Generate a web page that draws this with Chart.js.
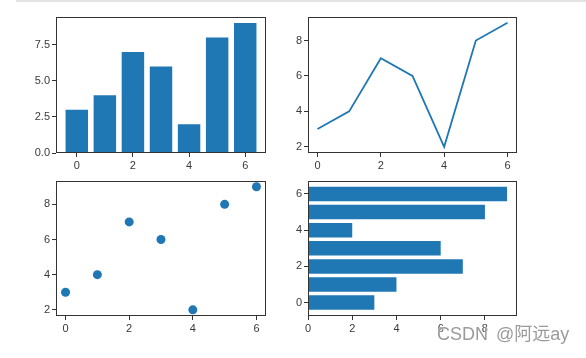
<!DOCTYPE html>
<html>
<head>
<meta charset="utf-8">
<script src="https://cdn.jsdelivr.net/npm/chart.js@4.4.0/dist/chart.umd.min.js"></script>
<style>
  html, body { margin:0; padding:0; background:#fff; }
  body { width:586px; height:358px; position:relative; overflow:hidden; }
  canvas { position:absolute; }
  #topline { position:absolute; left:16px; top:0; width:570px; height:2px; background:#e3e3e3; }
  #wm { position:absolute; left:437px; top:319px; font:18px "Liberation Sans","Noto Sans CJK SC",sans-serif;
        word-spacing:3px; color:rgba(120,120,120,0.75); text-shadow:0 0 2px #fff, 0 0 1px #fff; white-space:nowrap; }
</style>
</head>
<body>
<div id="topline"></div>
<canvas id="c1"></canvas>
<canvas id="c2"></canvas>
<canvas id="c3"></canvas>
<canvas id="c4"></canvas>
<div id="wm">CSDN @阿远ay</div>
<script>
// ---- data ----
const xs = [0, 1, 2, 3, 4, 5, 6];
const values = [3, 4, 7, 6, 2, 8, 9];
// ---- tick labels ----
const barYTicks = [0, 2.5, 5, 7.5];
const indexTicks = [0, 2, 4, 6];
const valueTicks = [2, 4, 6, 8];
const hbarXTicks = [0, 2, 4, 6, 8];

const BLUE = '#1f77b4';
const points = xs.map((x, i) => ({ x: x, y: values[i] }));
const hpoints = xs.map((x, i) => ({ x: values[i], y: x }));

const PADL = 40, PADT = 8, PADR = 8, PADB = 26;

const framePlugin = {
  id: 'frame',
  afterDatasetsDraw(chart) {
    const a = chart.chartArea, ctx = chart.ctx;
    ctx.save();
    ctx.strokeStyle = '#333';
    ctx.lineWidth = 1;
    ctx.strokeRect(Math.round(a.left) + 0.5, Math.round(a.top) + 0.5,
                   Math.round(a.right - a.left) - 1, Math.round(a.bottom - a.top) - 1);
    ctx.restore();
  }
};

function axis(pos, min, max, ticks, fmt, fitSize) {
  return {
    type: 'linear', position: pos, min: min, max: max, offset: false,
    afterBuildTicks: s => { s.ticks = ticks.map(v => ({ value: v })); },
    afterFit: s => { if (pos === 'left') s.width = fitSize; else s.height = fitSize; },
    grid: { display: true, offset: false, drawOnChartArea: false, drawTicks: true, tickLength: 4, color: '#333', lineWidth: 1 },
    border: { display: false },
    ticks: { color: '#3a3a3a', padding: 2, font: { family: 'Liberation Sans', size: 11 },
             autoSkip: false, maxRotation: 0, callback: fmt || (v => String(v)) }
  };
}

function make(id, frame, type, data, scales, extra) {
  const cv = document.getElementById(id);
  const w = frame.r - frame.l + PADL + PADR;
  const h = frame.b - frame.t + PADT + PADB;
  cv.width = w; cv.height = h;
  cv.style.left = (frame.l - PADL) + 'px';
  cv.style.top = (frame.t - PADT) + 'px';
  cv.style.width = w + 'px'; cv.style.height = h + 'px';
  return new Chart(cv, {
    type: type,
    data: data,
    plugins: [framePlugin],
    options: Object.assign({
      responsive: false, animation: false, devicePixelRatio: 1,
      layout: { padding: { top: PADT, right: PADR, left: 0, bottom: 0 } },
      plugins: { legend: { display: false }, tooltip: { enabled: false } },
      scales: scales
    }, extra || {})
  });
}

// top-left: vertical bars
make('c1', { l: 56, r: 266, t: 16, b: 153 }, 'bar',
  { datasets: [{ data: points, backgroundColor: BLUE, borderWidth: 0, barPercentage: 0.8, categoryPercentage: 1.0 }] },
  { x: axis('bottom', -0.74, 6.74, indexTicks, null, PADB),
    y: axis('left', 0, 9.45, barYTicks, v => v.toFixed(1), PADL) });

// top-right: line
make('c2', { l: 308, r: 517, t: 16, b: 153 }, 'line',
  { datasets: [{ data: points, borderColor: BLUE, borderWidth: 1.8, pointRadius: 0, tension: 0, fill: false }] },
  { x: axis('bottom', -0.3, 6.3, indexTicks, null, PADB),
    y: axis('left', 1.65, 9.35, valueTicks, null, PADL) });

// bottom-left: scatter
make('c3', { l: 56, r: 266, t: 180, b: 316 }, 'scatter',
  { datasets: [{ data: points, backgroundColor: BLUE, borderWidth: 0, pointRadius: 4.5 }] },
  { x: axis('bottom', -0.3, 6.3, indexTicks, null, PADB),
    y: axis('left', 1.65, 9.35, valueTicks, null, PADL) });

// bottom-right: horizontal bars
make('c4', { l: 308, r: 517, t: 180, b: 316 }, 'bar',
  { datasets: [{ data: hpoints, backgroundColor: BLUE, borderWidth: 0, barPercentage: 0.8, categoryPercentage: 1.0 }] },
  { x: axis('bottom', 0, 9.45, hbarXTicks, null, PADB),
    y: axis('left', -0.74, 6.74, indexTicks, null, PADL) },
  { indexAxis: 'y' });
</script>
</body>
</html>
